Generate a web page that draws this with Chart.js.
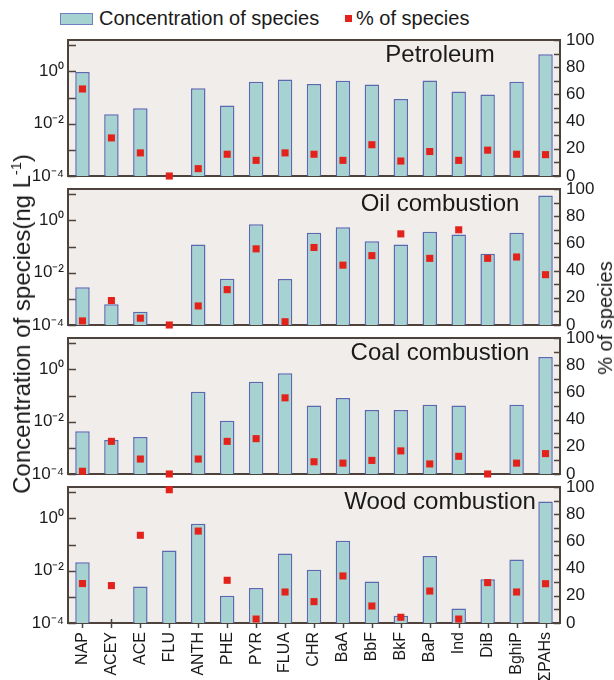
<!DOCTYPE html>
<html>
<head>
<meta charset="utf-8">
<script src="https://cdn.jsdelivr.net/npm/chart.js@4.4.1/dist/chart.umd.min.js"></script>
<style>
  html, body { margin: 0; padding: 0; background: #ffffff; }
  #wrap { position: relative; width: 614px; height: 680px; overflow: hidden;
          font-family: "Liberation Sans", Arial, sans-serif; color: #1a1a1a; }
  .pc { position: absolute; left: 0; width: 614px; }
  .lg-box { position: absolute; left: 60px; top: 13px; width: 31px; height: 10px;
            background: #a6d3d1; border: 1px solid #6f7fbf; }
  .lg-pt { position: absolute; left: 345px; top: 15px; width: 7px; height: 7px; background: #e3221c; }
  .lg-txt { position: absolute; top: 6px; font-size: 20px; line-height: 24px; white-space: nowrap; }
  .vtitle { position: absolute; white-space: nowrap; transform: translate(-50%, -50%) rotate(-90deg); }
</style>
</head>
<body>
<div id="wrap">
  <div class="lg-box"></div>
  <div class="lg-txt" style="left:99px">Concentration of species</div>
  <div class="lg-pt"></div>
  <div class="lg-txt" style="left:356px">% of species</div>

  <div class="pc" style="top:28px; height:160px;"><canvas id="c1"></canvas></div>
  <div class="pc" style="top:177px; height:160px;"><canvas id="c2"></canvas></div>
  <div class="pc" style="top:326px; height:160px;"><canvas id="c3"></canvas></div>
  <div class="pc" style="top:475px; height:205px;"><canvas id="c4"></canvas></div>

  <div class="vtitle" style="left:22px; top:324px; font-size:24px;">Concentration of species(ng L<sup style="font-size:0.6em">-1</sup>)</div>
  <div class="vtitle" style="left:605px; top:318px; font-size:20px; line-height:20px;">% of species</div>
</div>

<script>
// ---------------- data ----------------
const categories = ['NAP','ACEY','ACE','FLU','ANTH','PHE','PYR','FLUA','CHR','BaA','BbF','BkF','BaP','Ind','DiB','BghiP','ΣPAHs'];
const panelNames = ['Petroleum', 'Oil combustion', 'Coal combustion', 'Wood combustion'];

const petroleumConc = [0.95, 0.023, 0.039, null, 0.23, 0.050, 0.40, 0.49, 0.33, 0.44, 0.32, 0.089, 0.45, 0.17, 0.13, 0.40, 4.6];
const petroleumPct  = [64, 28, 17, 0, 5.4, 16, 11.5, 17, 16, 11.5, 23, 11, 18, 11.5, 19, 16, 15.7];

const oilConc = [0.0028, 0.00062, 0.00032, null, 0.12, 0.0059, 0.71, 0.0058, 0.34, 0.55, 0.16, 0.12, 0.37, 0.29, 0.053, 0.34, 9.1];
const oilPct  = [3, 18, 5, 0, 14, 26, 56, 2.4, 57, 44, 51, 67, 49, 70, 49, 50, 37];

const coalConc = [0.0043, 0.0020, 0.0026, null, 0.14, 0.011, 0.34, 0.72, 0.042, 0.081, 0.028, 0.028, 0.045, 0.042, null, 0.045, 3.0];
const coalPct  = [2, 24, 11, 0, 11, 24, 26, 56, 9, 8, 10, 17, 7.4, 13, 0, 8, 15];

const woodConc = [0.021, null, 0.0025, 0.059, 0.63, 0.0011, 0.0022, 0.046, 0.011, 0.14, 0.0039, 0.00019, 0.037, 0.00036, 0.0047, 0.027, 4.5];
const woodPct  = [29, 27.5, 64.5, 98, 67.6, 31.4, 2.9, 22.8, 15.7, 34.6, 12.5, 4.2, 23.5, 2.9, 29.7, 22.8, 28.9];

const logTickValues = [1e-4, 1e-3, 1e-2, 1e-1, 1, 10];
const logTickLabels = ['10⁻⁴', '', '10⁻²', '', '10⁰', ''];
const pctTickValues = [0, 10, 20, 30, 40, 50, 60, 70, 80, 90, 100];
const pctTickLabels = ['0', '', '20', '', '40', '', '60', '', '80', '', '100'];

// ---------------- styling ----------------
const FONT = '"Liberation Sans", Arial, sans-serif';
const FRAME = '#4e423c';
Chart.defaults.font.family = FONT;
Chart.defaults.color = '#1a1a1a';

const deco = {
  id: 'panelDeco',
  beforeDatasetsDraw(chart, args, opts) {
    const { ctx, chartArea: a } = chart;
    ctx.save();
    ctx.fillStyle = '#f1edea';
    ctx.fillRect(a.left, a.top, a.right - a.left, a.bottom - a.top);
    ctx.strokeStyle = FRAME;
    ctx.lineWidth = 2;
    ctx.strokeRect(a.left, a.top, a.right - a.left, a.bottom - a.top);
    ctx.lineWidth = 1.5;
    const ys = chart.scales.y;
    logTickValues.forEach(v => {
      const y = Math.round(ys.getPixelForValue(v)) + 0.5;
      ctx.beginPath(); ctx.moveTo(a.left, y); ctx.lineTo(a.left + 8, y); ctx.stroke();
    });
    const y2 = chart.scales.y2;
    pctTickValues.forEach(v => {
      const y = Math.round(y2.getPixelForValue(v)) + 0.5;
      ctx.beginPath(); ctx.moveTo(a.right - 6, y); ctx.lineTo(a.right, y); ctx.stroke();
    });
    if (opts.xTicks) {
      const xs = chart.scales.x;
      categories.forEach((c, i) => {
        const x = Math.round(xs.getPixelForValue(i)) + 0.5;
        ctx.beginPath(); ctx.moveTo(x, a.bottom - 4); ctx.lineTo(x, a.bottom + 5); ctx.stroke();
      });
    }
    ctx.restore();
  },
  afterDraw(chart, args, opts) {
    const { ctx, chartArea: a } = chart;
    ctx.save();
    ctx.font = '24px ' + FONT;
    ctx.fillStyle = '#1a1a1a';
    ctx.textAlign = 'center';
    ctx.textBaseline = 'alphabetic';
    ctx.fillText(opts.name, a.left + 372, a.top + 22);
    ctx.restore();
  }
};

function makePanel(id, conc, pct, name, isBottom) {
  return new Chart(document.getElementById(id), {
    type: 'bar',
    data: {
      labels: categories,
      datasets: [
        { type: 'line', data: pct, yAxisID: 'y2', showLine: false, pointStyle: 'rect',
          pointRadius: 5, pointHoverRadius: 5, pointBackgroundColor: '#e3221c',
          pointBorderColor: '#e3221c', pointBorderWidth: 0, clip: false, order: 0 },
        { type: 'bar', data: conc, yAxisID: 'y', backgroundColor: '#a6d3d1',
          borderColor: '#5b69b3', borderWidth: 1.5, barPercentage: 0.5,
          categoryPercentage: 1, order: 1 }
      ]
    },
    options: {
      responsive: true, maintainAspectRatio: false, animation: false, devicePixelRatio: 1,
      layout: { padding: { top: 12, bottom: isBottom ? 0 : 12, left: 0, right: 0 } },
      plugins: { legend: { display: false }, tooltip: { enabled: false }, panelDeco: { name: name, xTicks: isBottom } },
      scales: {
        x: {
          display: isBottom, offset: true,
          grid: { display: false, drawTicks: false }, border: { display: false },
          ticks: { minRotation: 90, maxRotation: 90, autoSkip: false, padding: 9,
                   font: { size: 16 }, color: '#1a1a1a' },
          afterFit(s) { s.height = isBottom ? 57 : 0; s.paddingLeft = 0; s.paddingRight = 0; }
        },
        y: {
          type: 'logarithmic', position: 'left', min: 1e-4, max: 16,
          afterBuildTicks(s) { s.ticks = logTickValues.map(v => ({ value: v })); },
          ticks: { autoSkip: false, padding: 4, font: { size: 17 }, color: '#1a1a1a',
                   callback: (v, i) => logTickLabels[i] },
          grid: { display: false, drawTicks: false }, border: { display: false },
          afterFit(s) { s.width = 68; s.paddingTop = 0; s.paddingBottom = 0; }
        },
        y2: {
          type: 'linear', position: 'right', min: 0, max: 100,
          afterBuildTicks(s) { s.ticks = pctTickValues.map(v => ({ value: v })); },
          ticks: { autoSkip: false, padding: 6, font: { size: 17 }, color: '#1a1a1a',
                   callback: (v, i) => pctTickLabels[i] },
          grid: { display: false, drawTicks: false }, border: { display: false },
          afterFit(s) { s.width = 54; s.paddingTop = 0; s.paddingBottom = 0; }
        }
      }
    },
    plugins: [deco]
  });
}

makePanel('c1', petroleumConc, petroleumPct, panelNames[0], false);
makePanel('c2', oilConc, oilPct, panelNames[1], false);
makePanel('c3', coalConc, coalPct, panelNames[2], false);
makePanel('c4', woodConc, woodPct, panelNames[3], true);
</script>
</body>
</html>
